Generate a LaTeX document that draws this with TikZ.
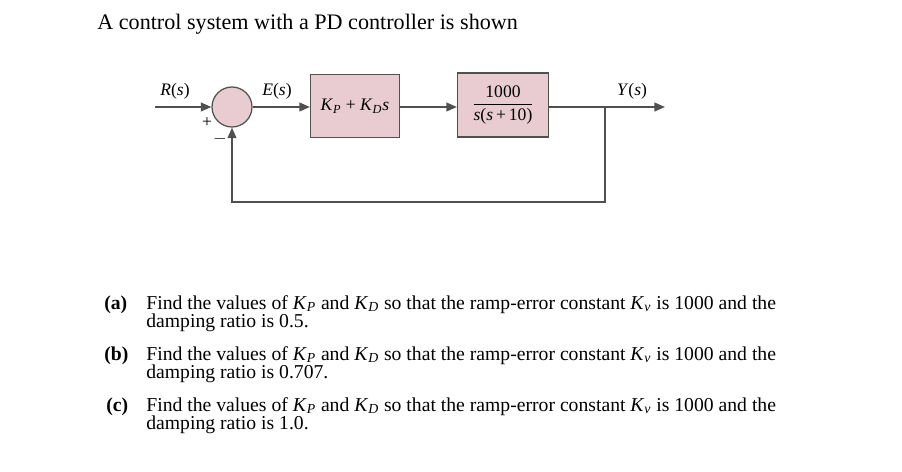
\documentclass[tikz,border=0pt]{standalone}
\usepackage{amsmath}
\usepackage{fontspec}
\setmainfont{Liberation Serif}
\definecolor{blk_fill}{RGB}{232,204,210}
\definecolor{blk_line}{RGB}{80,80,80}
\usetikzlibrary{arrows.meta, positioning, calc}
\newcommand{\Kx}[1]{\textit{K}\textsubscript{\textit{#1}}}

\begin{document}
\begin{tikzpicture}[x=0.02cm, y=-0.02cm,
    every node/.style={font=\fontsize{10}{11}\selectfont},
    blk/.style={draw=blk_line, fill=blk_fill, line width=0.7pt, inner sep=0pt},
    sig/.style={draw=blk_line, line width=0.8pt, -{Triangle[length=6pt, width=5pt]}},
    line/.style={draw=blk_line, line width=0.8pt},
    txt/.style={anchor=base west, inner sep=0pt, font=\fontsize{11.2}{12}\selectfont},
  ]
  \useasboundingbox (0,0) rectangle (902,471);

  \node[txt, font=\fontsize{12.6}{13}\selectfont] (title) at (97,29) {A control system with a PD controller is shown};

  % block diagram
  \coordinate (in) at (155,107);
  \node[blk, circle, minimum size=0.8cm] (sum) at (232,107) {};
  \node[blk, minimum width=1.78cm, minimum height=1.26cm] (ctl) at (355,106) {\Kx{P} + \Kx{D}\textit{s}};
  \node[blk, minimum width=1.82cm, minimum height=1.28cm] (pl) at (503,105)
    {$\genfrac{}{}{0.4pt}{0}{\text{1000}}{\text{\textit{s}(\textit{s}\,+\,10)}}$};
  \coordinate (br) at (605,107);
  \coordinate (out) at (665,107);
  \coordinate (fb) at (605,202);
  \coordinate (fs) at (232,202);

  \draw[sig] (in) -- (sum);
  \draw[sig] (sum) -- (sum -| ctl.west);
  \draw[sig] (ctl.east |- sum) -- (sum -| pl.west);
  \draw[line] (pl.east |- sum) -- (br);
  \draw[sig] (br) -- (out);
  \draw[sig] (br) -- (fb) -- (fs) -- (sum);

  \node (rl) at (175,91) {\textit{R}(\textit{s})};
  \node (el) at (277,91) {\textit{E}(\textit{s})};
  \node (yl) at (632,91) {\textit{Y}(\textit{s})};
  \node (pls) at (207,123) {+};
  \node (mns) at (220,139) {$-$};

  % questions
  \node[txt, font=\fontsize{11.2}{12}\selectfont\bfseries] (qa) at (104,309) {(a)};
  \node[txt] (qa1) at (146,309) {Find the values of \Kx{P} and \Kx{D} so that the ramp-error constant \Kx{v} is 1000 and the};
  \node[txt] (qa2) at (146,327) {damping ratio is 0.5.};
  \node[txt, font=\fontsize{11.2}{12}\selectfont\bfseries] (qb) at (104,360) {(b)};
  \node[txt] (qb1) at (146,360) {Find the values of \Kx{P} and \Kx{D} so that the ramp-error constant \Kx{v} is 1000 and the};
  \node[txt] (qb2) at (146,378) {damping ratio is 0.707.};
  \node[txt, font=\fontsize{11.2}{12}\selectfont\bfseries] (qc) at (106,411) {(c)};
  \node[txt] (qc1) at (146,411) {Find the values of \Kx{P} and \Kx{D} so that the ramp-error constant \Kx{v} is 1000 and the};
  \node[txt] (qc2) at (146,429) {damping ratio is 1.0.};
\end{tikzpicture}
\end{document}
